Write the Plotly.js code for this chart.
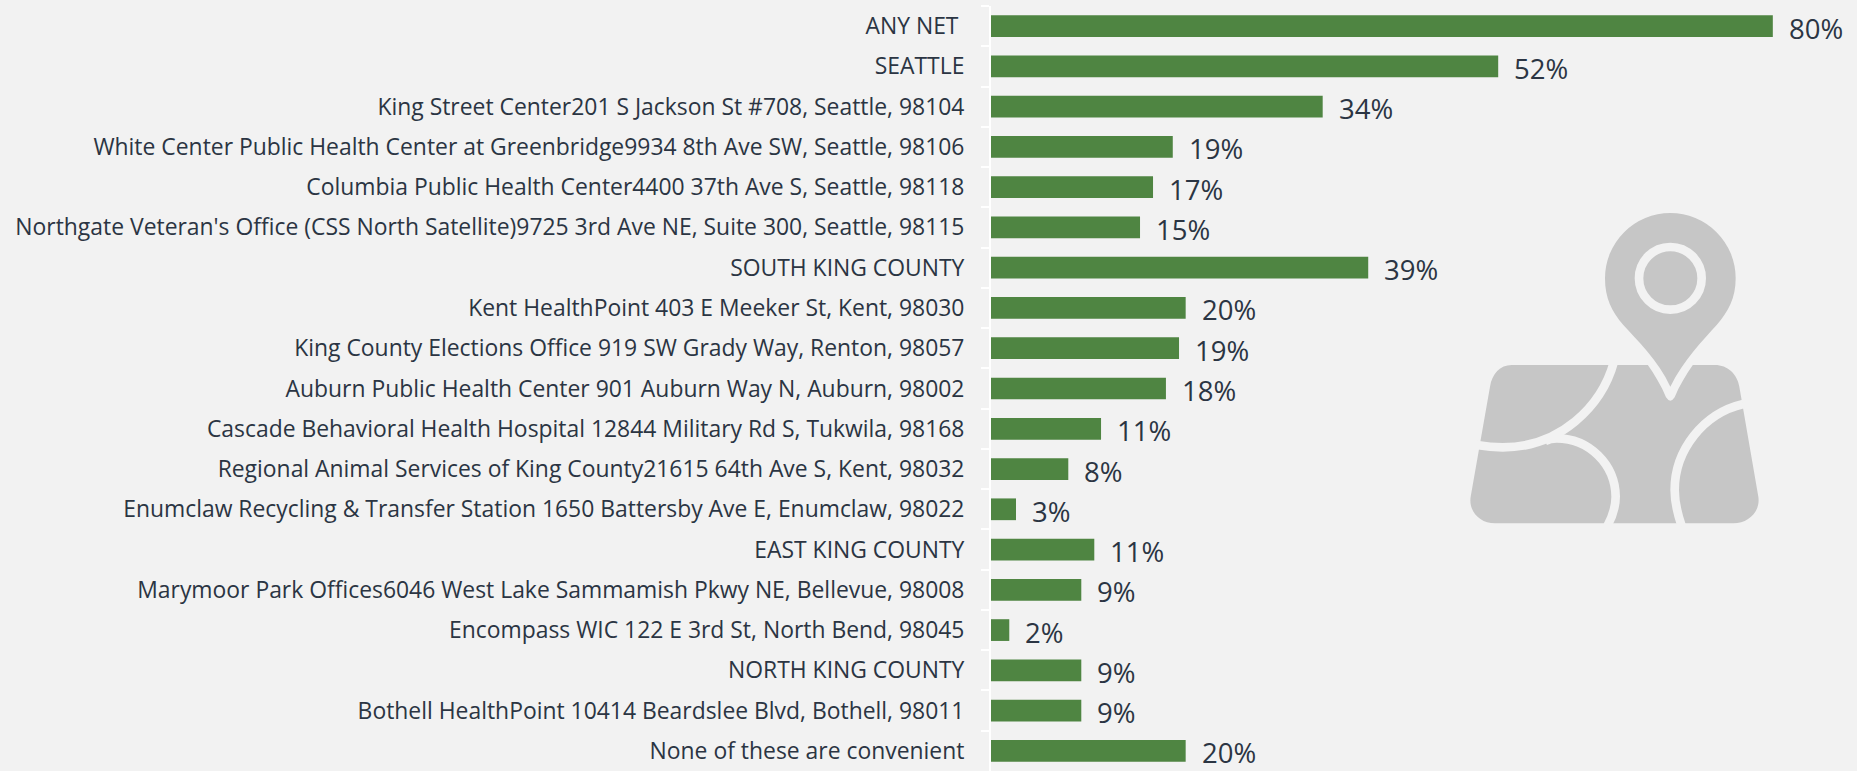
<!DOCTYPE html>
<html><head><meta charset="utf-8">
<script src="https://cdn.plot.ly/plotly-3.0.1.min.js"></script>
<style>html,body{margin:0;padding:0;background:#f2f2f2;overflow:hidden}</style></head>
<body><div id="chart" style="width:1857px;height:771px"></div>
<script>
const categories = [
"ANY NET\u00a0","SEATTLE","King Street Center201 S Jackson St #708, Seattle, 98104",
"White Center Public Health Center at Greenbridge9934 8th Ave SW, Seattle, 98106",
"Columbia Public Health Center4400 37th Ave S, Seattle, 98118",
"Northgate Veteran's Office (CSS North Satellite)9725 3rd Ave NE, Suite 300, Seattle, 98115",
"SOUTH KING COUNTY","Kent HealthPoint 403 E Meeker St, Kent, 98030",
"King County Elections Office 919 SW Grady Way, Renton, 98057",
"Auburn Public Health Center 901 Auburn Way N, Auburn, 98002",
"Cascade Behavioral Health Hospital 12844 Military Rd S, Tukwila, 98168",
"Regional Animal Services of King County21615 64th Ave S, Kent, 98032",
"Enumclaw Recycling & Transfer Station 1650 Battersby Ave E, Enumclaw, 98022",
"EAST KING COUNTY","Marymoor Park Offices6046 West Lake Sammamish Pkwy NE, Bellevue, 98008",
"Encompass WIC 122 E 3rd St, North Bend, 98045","NORTH KING COUNTY",
"Bothell HealthPoint 10414 Beardslee Blvd, Bothell, 98011","None of these are convenient"];
const values = [80,51.9,33.94,18.6,16.58,15.25,38.6,19.92,19.24,17.9,11.26,7.91,2.56,10.57,9.24,1.87,9.24,9.24,19.92];
const labels = ["80%","52%","34%","19%","17%","15%","39%","20%","19%","18%","11%","8%","3%","11%","9%","2%","9%","9%","20%"];
const svg = `<svg xmlns="http://www.w3.org/2000/svg" viewBox="0 0 1080 1080" width="1080" height="1080">
<path fill="#c6c6c6" d="M275,525 H885 C922,525 952,552 958,590 L1015,920 C1022,965 985,1000 940,1000 H225 C180,1000 145,965 152,920 L210,590 C216,552 240,525 275,525 Z"/>
<g fill="none" stroke="#f2f2f2" stroke-width="26">
<path d="M582,515 C545,650 420,772 248,772 C222,772 200,770 170,765"/>
<path d="M375,753 C385,748 398,745 410,745 A177,177 0 0 1 587,920 C587,950 580,975 562,1008"/>
<path d="M970,642 C850,670 764,780 764,900 C764,935 772,970 785,1008"/>
</g>
<path fill="#f2f2f2" d="M680,520 C705,555 725,590 738,622 Q751,642 764,622 C777,590 797,555 822,520 Z"/>
<path fill="#c6c6c6" d="M751,590 C715,510 650,450 610,405 C575,365 555,325 555,265 A196,196 0 1 1 947,265 C947,325 925,365 890,405 C850,450 790,510 751,590 Z"/>
<circle cx="751" cy="265" r="94" fill="none" stroke="#f2f2f2" stroke-width="26"/>
</svg>`;
const annotations = categories.map((c,i)=>({x:values[i],y:c,xref:'x',yref:'y',text:labels[i],showarrow:false,xanchor:'left',xshift:14,yshift:-2,
  font:{family:'"Open Sans",sans-serif',size:27.5,color:'#2b3543'}}));
Plotly.newPlot('chart',[{type:'bar',orientation:'h',x:values,y:categories,marker:{color:'#4f8542'},hoverinfo:'skip'}],{
  width:1857,height:771,paper_bgcolor:'#f2f2f2',plot_bgcolor:'#f2f2f2',showlegend:false,bargap:0.46,
  margin:{l:991,r:6,t:6,b:0,pad:0},
  font:{family:'"Open Sans",sans-serif',color:'#2b3543'},
  xaxis:{range:[0,88],visible:false,fixedrange:true},
  yaxis:{type:'category',range:[18.5,-0.5],automargin:false,showline:true,linecolor:'#ffffff',linewidth:2,showgrid:false,zeroline:false,
    ticks:'outside',tickson:'boundaries',ticklen:8,tickwidth:2,tickcolor:'#ffffff',ticklabelstandoff:20,
    tickfont:{family:'"Open Sans",sans-serif',size:22.9,color:'#2b3543'},fixedrange:true,dtick:1},
  annotations,
  images:[{source:'data:image/svg+xml;base64,'+btoa(svg),xref:'paper',yref:'paper',layer:'below',sizing:'stretch',
    x:(1420-991)/860,y:(771-190)/765,sizex:360/860,sizey:360/765,xanchor:'left',yanchor:'top'}]
},{displayModeBar:false,staticPlot:true});
</script></body></html>
